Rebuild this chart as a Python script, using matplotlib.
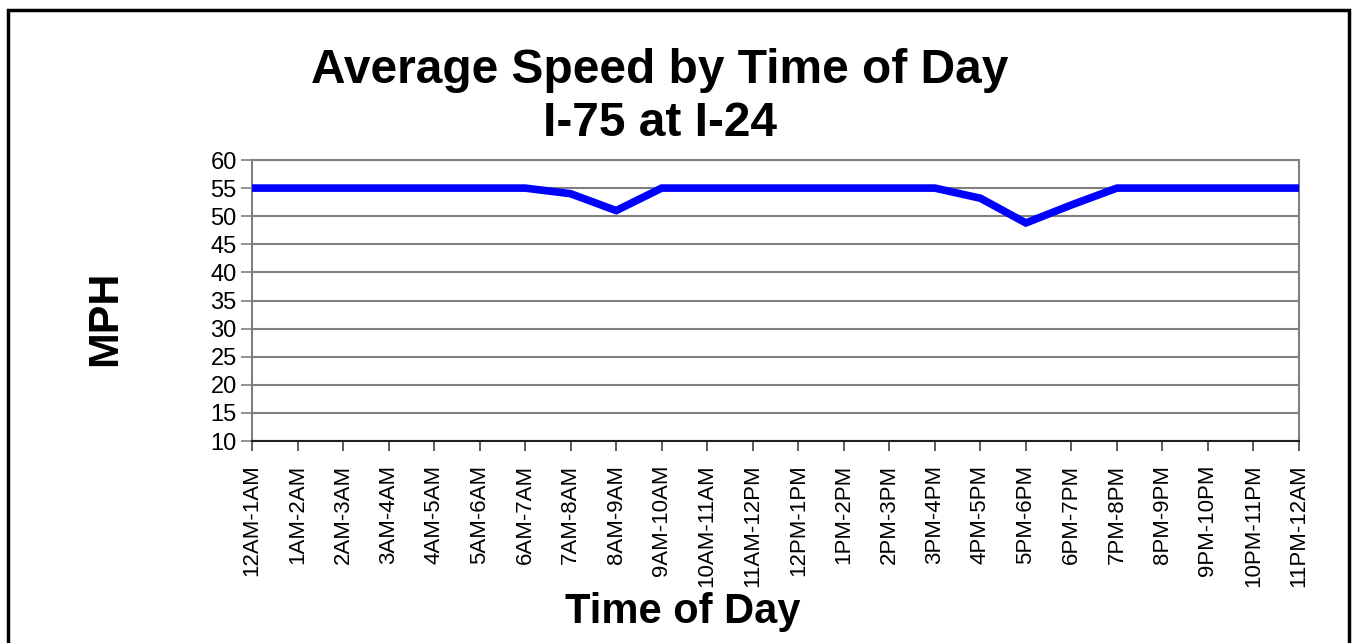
import matplotlib
matplotlib.use("Agg")
import matplotlib.pyplot as plt
from matplotlib.patches import Rectangle

plt.rcParams['font.family'] = ['Liberation Sans', 'DejaVu Sans']

hours = ["12AM", "1AM", "2AM", "3AM", "4AM", "5AM", "6AM", "7AM", "8AM", "9AM",
         "10AM", "11AM", "12PM", "1PM", "2PM", "3PM", "4PM", "5PM", "6PM", "7PM",
         "8PM", "9PM", "10PM", "11PM", "12AM"]
periods = ["%s-%s" % (hours[i], hours[i + 1]) for i in range(24)]
speed = [55, 55, 55, 55, 55, 55, 55, 54, 51, 55,
         55, 55, 55, 55, 55, 55, 53.2, 48.8, 52, 55,
         55, 55, 55, 55]
yticks = list(range(10, 61, 5))

fig = plt.figure(figsize=(13.52, 6.43), dpi=100)
ax = fig.add_axes([252 / 1352, 1 - 441 / 643, 1047 / 1352, 281 / 643])

x = list(range(len(periods)))
ax.plot(x, speed, color="#0000FF", linewidth=5.5, solid_joinstyle="miter", zorder=3)

ax.set_xlim(0, len(periods) - 1)
ax.set_ylim(10, 60)
ax.set_yticks(yticks)
ax.set_xticks(x)
ax.set_xticklabels(periods, rotation=90, fontsize=16)
ax.tick_params(axis="y", labelsize=17, length=8, width=1.2, color="#808080", pad=3)
ax.tick_params(axis="x", length=7, width=1.2, color="#404040", pad=10)
ax.grid(axis="y", color="#808080", linewidth=1.5)

for side in ["left", "right", "top"]:
    ax.spines[side].set_color("#808080")
    ax.spines[side].set_linewidth(1.5)
ax.spines["bottom"].set_color("#202020")
ax.spines["bottom"].set_linewidth(1.5)

fig.text(660 / 1352, 1 - 97 / 643, "Average Speed by Time of Day\nI-75 at I-24",
         ha="center", va="center", fontsize=34.5, fontweight="bold", linespacing=1.25)
fig.text(105 / 1352, 1 - 318 / 643, "MPH", rotation=90, ha="center", va="center",
         fontsize=31, fontweight="bold")
fig.text(683 / 1352, 1 - 612 / 643, "Time of Day", ha="center", va="center",
         fontsize=30, fontweight="bold")

fig.patches.append(Rectangle((8 / 1352, -0.1), 1341 / 1352, 1.1 - 10 / 643,
                             transform=fig.transFigure, fill=False,
                             edgecolor="black", linewidth=2.5))

fig.savefig("out.png", dpi=100)
